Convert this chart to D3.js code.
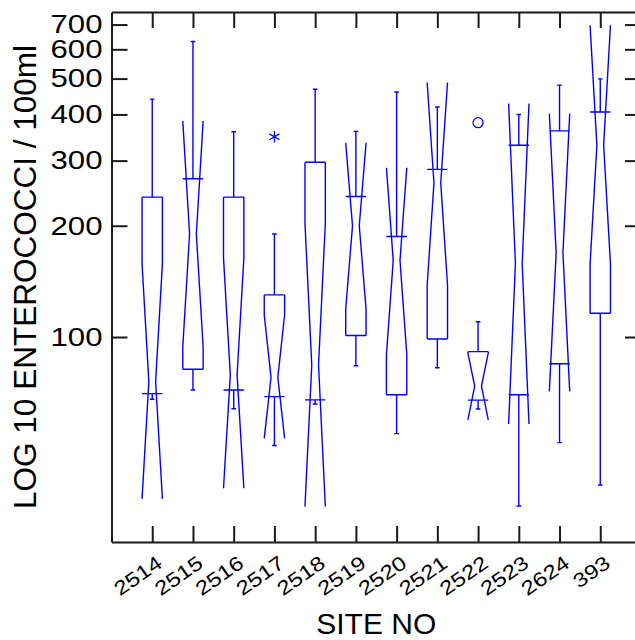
<!DOCTYPE html>
<html>
<head>
<meta charset="utf-8">
<script src="https://cdn.jsdelivr.net/npm/d3@7"></script>
<style>
  body { margin: 0; background: #fff; }
  svg { display: block; font-family: "Liberation Sans", Arial, sans-serif; }
</style>
</head>
<body>
<svg id="chart" width="635" height="640"></svg>
<script>
// site order along the x axis
const sites = ['2514', '2515', '2516', '2517', '2518', '2519', '2520', '2521', '2522', '2523', '2624', '393'];

// box plot statistics (enterococci / 100ml)
const whiskerLow  = [67.9, 71.9, 64.0, 50.9, 65.9, 83.6, 54.8, 82.6, 63.9, 34.9, 51.8, 39.8];
const q1          = [70.3, 81.8, 71.9, 69.0, 67.6, 101, 69.8, 98.8, 67.5, 69.8, 84.7, 116];
const median      = [75.7, 190, 79, 77.8, 84, 200, 161, 261, 73.7, 158, 169, 330];
const q3          = [239, 268, 239, 130, 297, 240, 187, 284, 91.3, 330, 361, 406];
const whiskerHigh = [440, 630, 359, 190, 468, 360, 460, 419, 110, 400, 480, 499];
const notchLow    = [36.5, 94, 39, 53.2, 34.8, 118.8, 89.7, 138, 59.7, 58.2, 71.3, 157.5];
const notchHigh   = [158, 384, 163.5, 114.7, 203, 335, 287, 488, 90.5, 428, 402, 697];

// points outside the whiskers
const outlierSites   = ['2517', '2522'];
const outlierValues  = [348, 380];
const outlierSymbols = ['asterisk', 'circle'];

const yTicks = [100, 200, 300, 400, 500, 600, 700];

const MARGIN = {top: 12, left: 111.5, right: 641, bottom: 542};
const BLUE = '#0000ff';

const svg = d3.select('#chart');

const xScale = d3.scalePoint()
    .domain(sites)
    .range([MARGIN.left, MARGIN.right])
    .padding(1);

const yScale = d3.scaleLog()
    .domain([27.9, 757])
    .range([MARGIN.bottom, MARGIN.top]);

const boxes = sites.map((s, i) => ({
    site: s, lo: whiskerLow[i], q1: q1[i], med: median[i], q3: q3[i],
    hi: whiskerHigh[i], nlo: notchLow[i], nhi: notchHigh[i]
}));

// axes
function styleAxis(g) {
    g.select('.domain').attr('stroke', '#1a1a1a').attr('stroke-width', 2);
    g.selectAll('.tick line').attr('stroke', '#1a1a1a').attr('stroke-width', 2);
}

svg.append('g')
    .attr('transform', `translate(${MARGIN.left},0)`)
    .call(d3.axisLeft(yScale).tickValues(yTicks).tickFormat(d3.format('d'))
        .tickSizeInner(-16).tickSizeOuter(0).tickPadding(9))
    .call(styleAxis)
    .call(g => g.selectAll('.tick text')
        .attr('fill', '#000')
        .attr('font-size', 26)
        .attr('font-family', '"Liberation Sans", Arial, sans-serif')
        .attr('transform', 'translate(-9,0) scale(1.2,1) translate(9,0)'));

svg.append('g')
    .attr('transform', `translate(${MARGIN.right},0)`)
    .call(d3.axisRight(yScale).tickValues(yTicks).tickFormat('')
        .tickSizeInner(-16).tickSizeOuter(0))
    .call(styleAxis);

svg.append('g')
    .attr('transform', `translate(0,${MARGIN.top})`)
    .call(d3.axisTop(xScale).tickFormat('').tickSizeInner(-16).tickSizeOuter(0))
    .call(styleAxis);

svg.append('g')
    .attr('transform', `translate(0,${MARGIN.bottom})`)
    .call(d3.axisBottom(xScale).tickSizeInner(-16).tickSizeOuter(0))
    .call(styleAxis)
    .call(g => g.selectAll('.tick text')
        .attr('fill', '#000')
        .attr('font-size', 20)
        .attr('font-family', '"Liberation Sans", Arial, sans-serif')
        .attr('text-anchor', 'end')
        .attr('x', 0).attr('y', 0).attr('dy', 0)
        .attr('transform', 'translate(11,24) rotate(-35) scale(1.2,1)'));

// axis titles
svg.append('text')
    .attr('transform', `translate(36,${(MARGIN.top + MARGIN.bottom) / 2}) rotate(-90)`)
    .attr('text-anchor', 'middle')
    .attr('font-size', 31.5)
    .text('LOG 10 ENTEROCOCCI / 100ml');

svg.append('text')
    .attr('x', (MARGIN.left + MARGIN.right) / 2)
    .attr('y', 634)
    .attr('text-anchor', 'middle')
    .attr('font-size', 30)
    .text('SITE NO');

// notched boxes
const hw = xScale.step() / 4;
const nw = hw / 3;
const capW = 2.3;

function boxPath(d) {
    const x = xScale(d.site);
    const yq3 = yScale(d.q3), yq1 = yScale(d.q1), ym = yScale(d.med);
    const ynh = yScale(d.nhi), ynl = yScale(d.nlo);
    const p = d3.path();
    // hinges
    p.moveTo(x - hw, yq3); p.lineTo(x + hw, yq3);
    p.moveTo(x - hw, yq1); p.lineTo(x + hw, yq1);
    // two sides, each: straight part of box, notch in to median, out again
    [-1, 1].forEach(s => {
        if (ynh > yq3) { p.moveTo(x + s * hw, yq3); p.lineTo(x + s * hw, ynh); }
        else p.moveTo(x + s * hw, ynh);
        p.lineTo(x + s * nw, ym);
        p.lineTo(x + s * hw, ynl);
        if (ynl < yq1) p.lineTo(x + s * hw, yq1);
    });
    // whiskers with caps
    p.moveTo(x, yq3); p.lineTo(x, yScale(d.hi));
    p.moveTo(x - capW, yScale(d.hi)); p.lineTo(x + capW, yScale(d.hi));
    p.moveTo(x, yq1); p.lineTo(x, yScale(d.lo));
    p.moveTo(x - capW, yScale(d.lo)); p.lineTo(x + capW, yScale(d.lo));
    return p.toString();
}

svg.append('g')
    .selectAll('path')
    .data(boxes)
    .join('path')
    .attr('d', boxPath)
    .attr('fill', 'none')
    .attr('stroke', BLUE)
    .attr('stroke-width', 1.4);

// outliers
const outliers = outlierSites.map((s, i) => ({site: s, value: outlierValues[i], symbol: outlierSymbols[i]}));

function outlierPath(d) {
    const x = xScale(d.site), y = yScale(d.value);
    const p = d3.path();
    if (d.symbol === 'circle') {
        p.moveTo(x + 5, y);
        p.arc(x, y, 5, 0, 2 * Math.PI);
    } else {
        const r = 5.8;
        [90, 30, -30].forEach(a => {
            const dx = r * Math.cos(a * Math.PI / 180), dy = r * Math.sin(a * Math.PI / 180);
            p.moveTo(x - dx, y - dy); p.lineTo(x + dx, y + dy);
        });
    }
    return p.toString();
}

svg.append('g')
    .selectAll('path')
    .data(outliers)
    .join('path')
    .attr('d', outlierPath)
    .attr('fill', 'none')
    .attr('stroke', BLUE)
    .attr('stroke-width', 1.3);
</script>
</body>
</html>
